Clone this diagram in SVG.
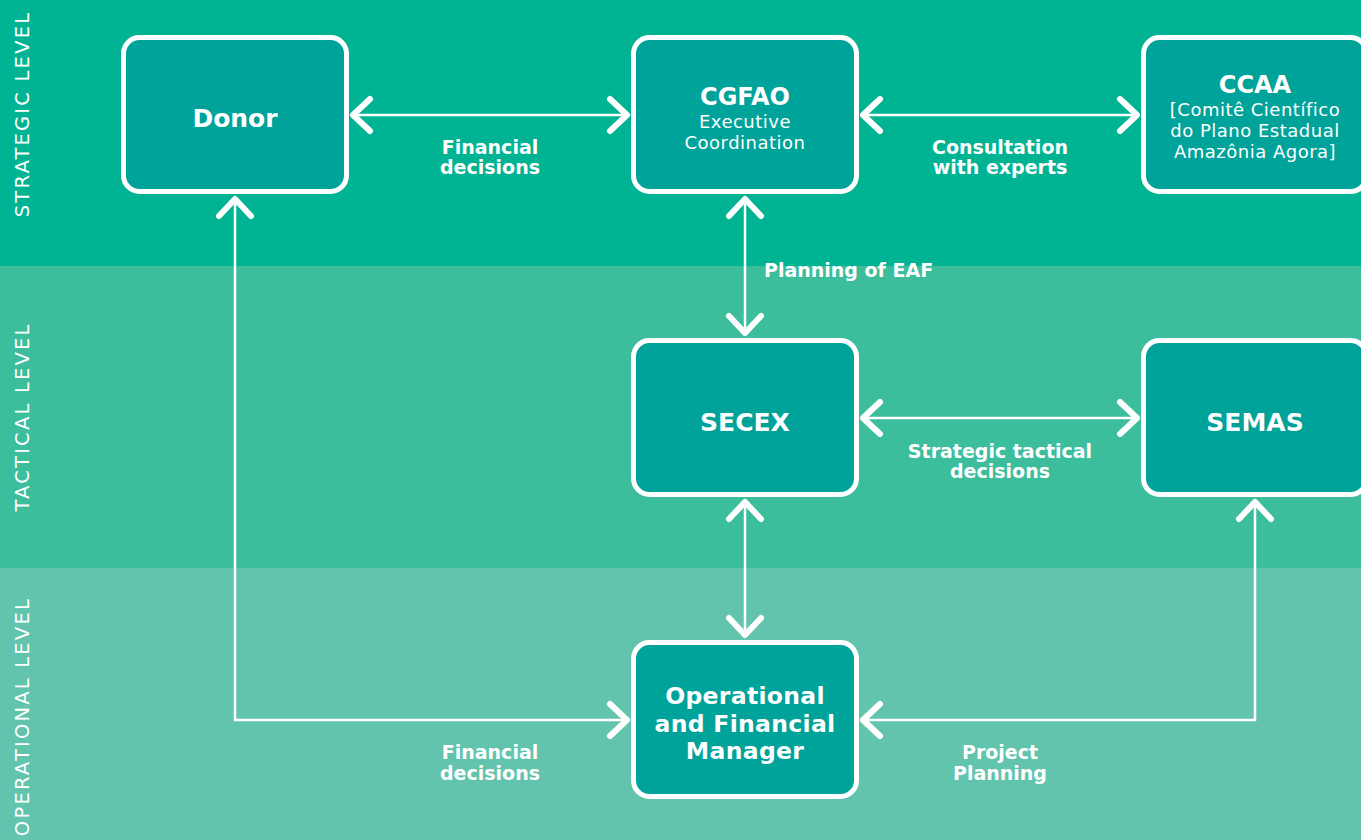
<svg xmlns="http://www.w3.org/2000/svg" width="1361" height="840" viewBox="0 0 1361 840">
<defs>
<style>
.node rect{fill:#00A39A;stroke:#fff;stroke-width:5}
.t{font-family:"DejaVu Sans","Liberation Sans",sans-serif;fill:#fff;text-anchor:middle}
.b{font-weight:700;font-size:25px}
.h{font-weight:700;font-size:24px}
.m{font-weight:700;font-size:23.5px;letter-spacing:0.3px}
.r{font-weight:400;font-size:18px;letter-spacing:0.5px}
.lbl{font-family:"DejaVu Sans","Liberation Sans",sans-serif;fill:#fff;font-weight:700;font-size:19px;text-anchor:middle}
.side{font-family:"DejaVu Sans","Liberation Sans",sans-serif;fill:#fff;font-size:19.5px;letter-spacing:2.2px}
.conn path{fill:none;stroke:#fff;stroke-width:2.5;marker-start:url(#chev);marker-end:url(#chev)}
</style>
<marker id="chev" markerUnits="userSpaceOnUse" markerWidth="40" markerHeight="40" viewBox="-24 -20 30 40" refX="0" refY="0" orient="auto-start-reverse" overflow="visible">
<path d="M-17,-16 L0,0 L-17,16" fill="none" stroke="#fff" stroke-width="6" stroke-linecap="round" stroke-linejoin="round"/>
</marker>
</defs>
<g id="bands">
<rect x="0" y="0" width="1361" height="266" fill="#00B493"/>
<rect x="0" y="266" width="1361" height="302" fill="#3CBD9C"/>
<rect x="0" y="568" width="1361" height="272" fill="#62C4AD"/>
<text class="side" text-anchor="middle" transform="translate(29,114) rotate(-90)">STRATEGIC LEVEL</text>
<text class="side" text-anchor="middle" transform="translate(29,417) rotate(-90)">TACTICAL LEVEL</text>
<text class="side" text-anchor="end" transform="translate(29,597) rotate(-90)">OPERATIONAL LEVEL</text>
</g>
<g id="connectors" class="conn">
<path d="M353,115 H627"/>
<path d="M863,115 H1137"/>
<path d="M745,199 V333"/>
<path d="M863,418 H1137"/>
<path d="M745,502 V635"/>
<path d="M235,199 V720 H627"/>
<path d="M1255,502 V720 H863"/>
</g>
<g id="labels">
<text class="lbl" x="490" y="154">Financial</text>
<text class="lbl" x="490" y="174">decisions</text>
<text class="lbl" x="1000" y="154">Consultation</text>
<text class="lbl" x="1000" y="174">with experts</text>
<text class="lbl" x="764" y="277" style="text-anchor:start">Planning of EAF</text>
<text class="lbl" x="1000" y="458">Strategic tactical</text>
<text class="lbl" x="1000" y="478">decisions</text>
<text class="lbl" x="490" y="759">Financial</text>
<text class="lbl" x="490" y="780">decisions</text>
<text class="lbl" x="1000" y="759">Project</text>
<text class="lbl" x="1000" y="780">Planning</text>
</g>
<g id="donor" class="node">
<rect x="123.5" y="37.5" width="223" height="154" rx="16"/>
<text class="t b" x="235" y="127">Donor</text>
</g>
<g id="cgfao" class="node">
<rect x="633.5" y="37.5" width="223" height="154" rx="16"/>
<text class="t h" x="745" y="105">CGFAO</text>
<text class="t r" x="745" y="127.5">Executive</text>
<text class="t r" x="745" y="148.5">Coordination</text>
</g>
<g id="ccaa" class="node">
<rect x="1143.5" y="37.5" width="223" height="154" rx="16"/>
<text class="t h" x="1255" y="93">CCAA</text>
<text class="t r" x="1255" y="116">[Comitê Científico</text>
<text class="t r" x="1255" y="137">do Plano Estadual</text>
<text class="t r" x="1255" y="158">Amazônia Agora]</text>
</g>
<g id="secex" class="node">
<rect x="633.5" y="340.5" width="223" height="154" rx="16"/>
<text class="t b" x="745" y="431">SECEX</text>
</g>
<g id="semas" class="node">
<rect x="1143.5" y="340.5" width="223" height="154" rx="16"/>
<text class="t b" x="1255" y="431">SEMAS</text>
</g>
<g id="ofm" class="node">
<rect x="633.5" y="642.5" width="223" height="154" rx="16"/>
<text class="t m" x="745" y="704">Operational</text>
<text class="t m" x="745" y="731.5">and Financial</text>
<text class="t m" x="745" y="759">Manager</text>
</g>
</svg>
